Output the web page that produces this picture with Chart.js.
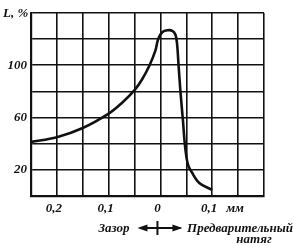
<!DOCTYPE html>
<html>
<head>
<meta charset="utf-8">
<script src="https://cdn.jsdelivr.net/npm/chart.js@4/dist/chart.umd.min.js"></script>
<style>
  html, body { margin: 0; padding: 0; background: #fff; }
  #wrap { width: 294px; height: 245px; position: relative; }
</style>
</head>
<body>
<div id="wrap"><canvas id="chart"></canvas></div>
<script>
// gap (negative, left) / preload (positive, right), mm
const gapMm = [-0.25, -0.2, -0.15, -0.1, -0.075, -0.05, -0.035, -0.021, -0.01, -0.004, 0.004, 0.0135, 0.023, 0.029, 0.032, 0.035, 0.0386, 0.0434, 0.047, 0.0505, 0.054, 0.06, 0.075, 0.1];
// L, %
const lengthPct = [41.4, 45, 52, 63, 71, 81, 89.5, 100, 111, 120.5, 125.5, 126.8, 126.4, 123.3, 117, 100, 80, 58, 40, 29, 23, 18.5, 10, 4.6];

const xTickValues = [-0.2, -0.1, 0, 0.1, 0.15];
const xTickText = ['0,2', '0,1', '0', '0,1', 'мм'];
const yTickValues = [20, 60, 100];
const yTickText = ['20', '60', '100'];

const labelFont = { family: 'Liberation Serif', size: 13, style: 'italic', weight: 'bold' };

function tickText(values, texts, v) {
    for (let i = 0; i < values.length; i++) {
        if (Math.abs(values[i] - v) < 1e-6) return texts[i];
    }
    return '';
}

// axis caption and the gap / preload note under the chart
const captions = {
    id: 'captions',
    afterDraw(chart) {
        const ctx = chart.ctx;
        const x0 = chart.scales.x.getPixelForValue(0);
        ctx.save();
        ctx.fillStyle = '#111';
        ctx.font = 'italic bold 13px "Liberation Serif"';
        ctx.textBaseline = 'alphabetic';
        ctx.textAlign = 'left';
        ctx.fillText('L, %', 3, 17);

        ctx.textAlign = 'center';
        ctx.fillText('Зазор', 114, 232);
        ctx.fillText('Предварительный', 240, 232);
        ctx.fillText('натяг', 254, 243);

        // double arrow with a cross at zero
        ctx.strokeStyle = '#111';
        ctx.lineWidth = 2;
        ctx.beginPath();
        ctx.moveTo(x0 - 20, 228);
        ctx.lineTo(x0 + 20, 228);
        ctx.moveTo(x0 - 3, 221);
        ctx.lineTo(x0 - 3, 235);
        ctx.stroke();
        ctx.fillStyle = '#111';
        ctx.beginPath();
        ctx.moveTo(x0 - 23, 228);
        ctx.lineTo(x0 - 13, 224.5);
        ctx.lineTo(x0 - 13, 231.5);
        ctx.closePath();
        ctx.fill();
        ctx.beginPath();
        ctx.moveTo(x0 + 22, 228);
        ctx.lineTo(x0 + 12, 224.5);
        ctx.lineTo(x0 + 12, 231.5);
        ctx.closePath();
        ctx.fill();
        ctx.restore();
    }
};

new Chart(document.getElementById('chart'), {
    type: 'line',
    data: {
        datasets: [{
            data: gapMm.map((x, i) => ({ x: x, y: lengthPct[i] })),
            borderColor: '#111',
            borderWidth: 2.6,
            pointRadius: 0,
            fill: false,
            tension: 0.35
        }]
    },
    options: {
        responsive: true,
        maintainAspectRatio: false,
        animation: false,
        layout: { padding: { left: 0, right: 30, top: 13, bottom: 0 } },
        plugins: { legend: { display: false }, tooltip: { enabled: false } },
        scales: {
            x: {
                type: 'linear',
                min: -0.25,
                max: 0.2,
                afterFit(scale) { scale.height = 49; },
                afterBuildTicks(scale) {
                    const t = [];
                    for (let i = 0; i <= 9; i++) t.push({ value: -0.25 + i * 0.05 });
                    scale.ticks = t;
                },
                grid: { color: '#111', lineWidth: 1.6, drawTicks: false },
                border: { color: '#111', width: 2.2 },
                ticks: {
                    color: '#111',
                    font: labelFont,
                    padding: 5,
                    labelOffset: -3,
                    maxRotation: 0,
                    autoSkip: false,
                    callback: v => tickText(xTickValues, xTickText, v)
                }
            },
            y: {
                min: 0,
                max: 140,
                afterFit(scale) { scale.width = 31; },
                grid: { color: '#111', lineWidth: 1.6, drawTicks: false },
                border: { color: '#111', width: 2.2 },
                ticks: {
                    stepSize: 20,
                    color: '#111',
                    font: labelFont,
                    padding: 4,
                    callback: v => tickText(yTickValues, yTickText, v)
                }
            }
        }
    },
    plugins: [captions]
});
</script>
</body>
</html>
